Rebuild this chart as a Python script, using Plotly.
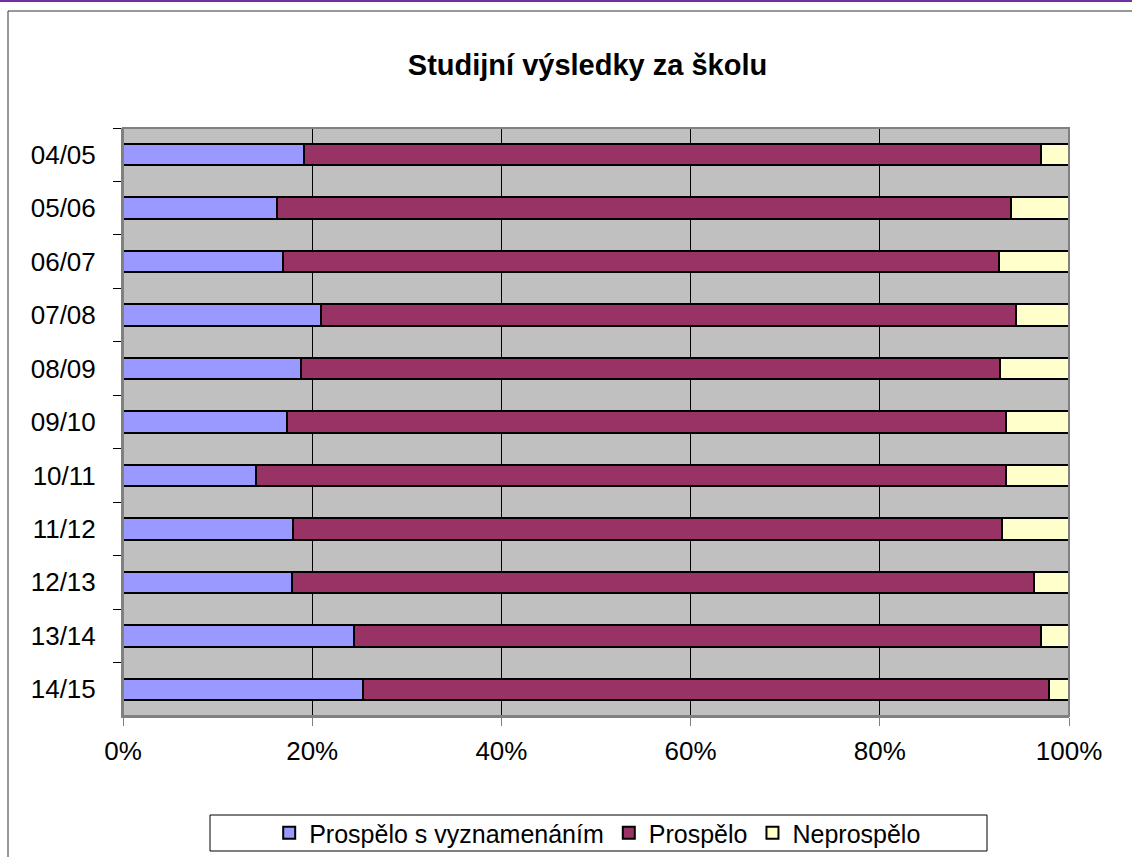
import plotly.graph_objects as go

years = ["04/05", "05/06", "06/07", "07/08", "08/09", "09/10", "10/11", "11/12", "12/13", "13/14", "14/15"]
vyznamenani = [19.1, 16.3, 16.9, 20.9, 18.8, 17.3, 14.1, 18.0, 17.9, 24.4, 25.4]
prospelo = [77.9, 77.6, 75.7, 73.5, 73.9, 76.0, 79.2, 74.9, 78.4, 72.6, 72.5]
neprospelo = [3.0, 6.1, 7.4, 5.6, 7.3, 6.7, 6.7, 7.1, 3.7, 3.0, 2.1]

series = [
    ("Prospělo s vyznamenáním", vyznamenani, "#9999ff"),
    ("Prospělo", prospelo, "#993366"),
    ("Neprospělo", neprospelo, "#ffffcc"),
]

fig = go.Figure()
for name, vals, color in series:
    fig.add_trace(go.Bar(
        y=years, x=vals, name=name, orientation="h",
        marker=dict(color=color, line=dict(color="black", width=2)),
    ))

fig.update_layout(
    barmode="stack",
    bargap=0.6,
    width=1132, height=857,
    margin=dict(l=123, r=63, t=128, b=141),
    paper_bgcolor="white",
    plot_bgcolor="#c0c0c0",
    font=dict(family="Liberation Sans, Arial, sans-serif", size=26, color="black"),
    title=dict(text="<b>Studijní výsledky za školu</b>", x=0.519, xanchor="center",
               y=1 - 65 / 857, yanchor="middle", font=dict(size=29)),
    showlegend=True,
    legend=dict(orientation="h", xref="container", yref="container",
                x=0.528, xanchor="center", y=(857 - 810) / 857, yanchor="top",
                bgcolor="rgba(0,0,0,0)", borderwidth=0, traceorder="normal",
                font=dict(size=25), itemwidth=30),
    xaxis=dict(range=[0, 100], tickvals=[0, 20, 40, 60, 80, 100],
               ticktext=["0%", "20%", "40%", "60%", "80%", "100%"],
               showgrid=True, gridcolor="black", gridwidth=1,
               ticks="outside", ticklen=8, tickcolor="#808080",
               showline=True, linecolor="#808080", linewidth=2,
               zeroline=False, mirror=False, ticklabelstandoff=3),
    yaxis=dict(autorange="reversed", type="category",
               ticks="outside", tickson="boundaries", ticklen=8, tickcolor="black",
               showline=True, linecolor="#808080", linewidth=2,
               showgrid=False, ticklabelstandoff=20),
)

# plot area top/right border
fig.add_shape(type="rect", xref="paper", yref="paper", x0=0, x1=1, y0=0, y1=1,
              line=dict(color="#808080", width=2), layer="above")
# chart outer border (clipped at right/bottom)
fig.add_shape(type="rect", xref="paper", yref="paper",
              x0=(8 - 123) / 946, x1=1.2, y0=-0.4, y1=1 + (128 - 11) / 588,
              line=dict(color="#333333", width=1), layer="below")
# legend frame
fig.add_shape(type="rect", xref="paper", yref="paper",
              x0=(210 - 123) / 946, x1=(987 - 123) / 946,
              y0=(716 - 851) / 588, y1=(716 - 815) / 588,
              line=dict(color="black", width=1), fillcolor="white", layer="below")
# purple top line
fig.add_shape(type="line", xref="paper", yref="paper",
              x0=-0.2, x1=1.2, y0=1 + (128 - 1) / 588, y1=1 + (128 - 1) / 588,
              line=dict(color="#7030a0", width=2))

fig.write_html("out.html", config={"displayModeBar": False},
               post_script="document.body.style.margin='0';document.body.style.overflow='hidden';")
